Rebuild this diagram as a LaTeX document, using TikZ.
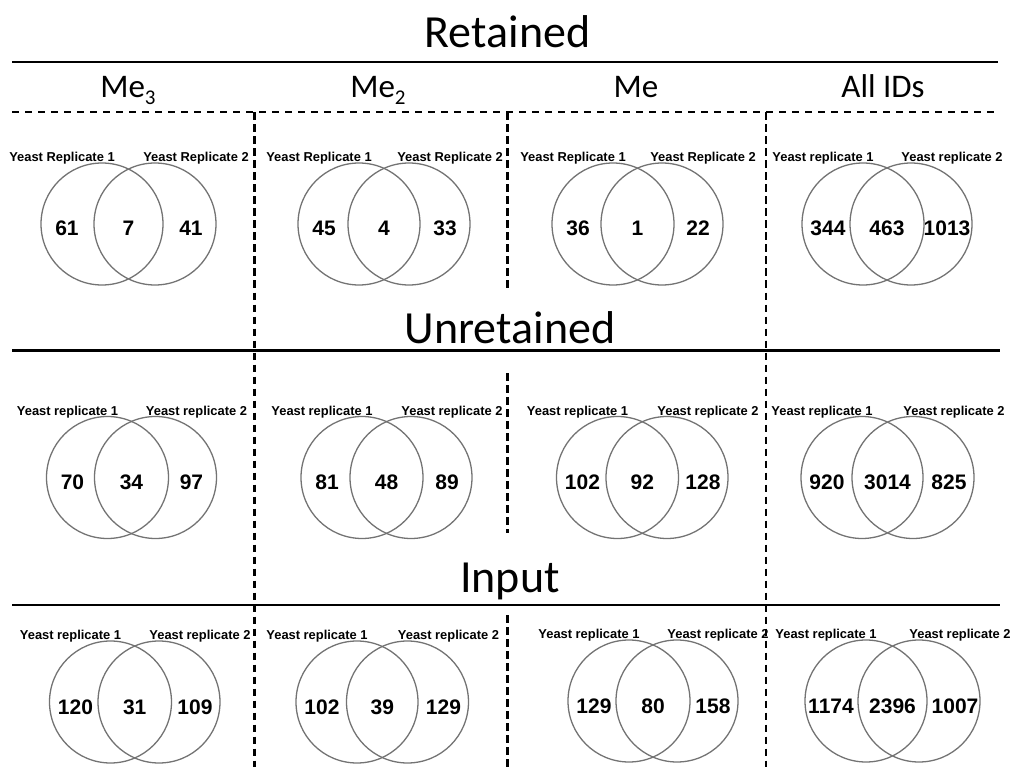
\documentclass[tikz,border=0pt]{standalone}
\usepackage{fontspec}
\setmainfont{Carlito}
\newfontfamily\arialf{Liberation Sans}
\tikzset{
  venncirc/.style={circle, draw=black!55, line width=1.3pt, minimum size=122pt, inner sep=0pt},
  vlabel/.style={font=\arialf\bfseries\fontsize{12.9}{14}\selectfont, anchor=base, inner sep=0pt},
  vnum/.style={font=\arialf\bfseries\fontsize{21}{24}\selectfont, anchor=base, inner sep=0pt},
  heading/.style={font=\fontsize{46}{50}\selectfont, anchor=base, inner sep=0pt},
  colhead/.style={font=\fontsize{33}{36}\selectfont, anchor=base, inner sep=0pt},
  solidrule/.style={line width=2.8pt},
  hdash/.style={line width=2pt, dash pattern=on 7pt off 6pt},
  vdash/.style={line width=2.3pt, dash pattern=on 7.5pt off 4.5pt}
}
\newcommand\mysub[1]{\raisebox{-7pt}{\fontsize{21}{22}\selectfont #1}}
% #1 name, #2 xL, #3 xR, #4 yc, #5 word, #6 #7 #8 numbers
\newcommand\myvenn[8]{%
  \node[venncirc] (#1a) at (#2,#4) {};
  \node[venncirc] (#1b) at (#3,#4) {};
  \node[vlabel] (#1la) at ({#2-40},{#4-62.5}) {Yeast #5 1};
  \node[vlabel] (#1lb) at ({#3+41},{#4-62.5}) {Yeast #5 2};
  \node[vnum] (#1n1) at ({#2-35},{#4+12}) {#6};
  \node[vnum] (#1n2) at ({(#2+#3)/2},{#4+12}) {#7};
  \node[vnum] (#1n3) at ({#3+36},{#4+12}) {#8};
}
\begin{document}
\begin{tikzpicture}[x=1pt,y=-1pt]
\useasboundingbox (0,0) rectangle (1017,767);
% headings
\node[heading] (hret) at (507.5,47.7) {Retained};
\node[heading] (hunr) at (510,343) {Unretained};
\node[heading] (hinp) at (510,592) {Input};
\node[colhead] (cme3) at (128,98) {Me\mysub{3}};
\node[colhead] (cme2) at (378,98) {Me\mysub{2}};
\node[colhead] (cme1) at (636,98) {Me};
\node[colhead] (call) at (883,98) {All IDs};
% rules
\coordinate (r1l) at (12,62);   \coordinate (r1r) at (998,62);
\coordinate (dl) at (12,112.5); \coordinate (dr) at (998,112.5);
\coordinate (r2l) at (12,350.5); \coordinate (r2r) at (1000,350.5);
\coordinate (r3l) at (12,605);  \coordinate (r3r) at (1000,605);
\draw[solidrule] (r1l) -- (r1r);
\draw[hdash] (dl) -- (dr);
\draw[solidrule] (r2l) -- (r2r);
\draw[solidrule] (r3l) -- (r3r);
% vertical dashed separators
\coordinate (v1t) at (254.5,112.5); \coordinate (v1b) at (254.5,767);
\coordinate (v3t) at (766,112.5);   \coordinate (v3b) at (766,767);
\coordinate (v2at) at (507.5,112.5); \coordinate (v2ab) at (507.5,292);
\coordinate (v2bt) at (507.5,373);   \coordinate (v2bb) at (507.5,533);
\coordinate (v2ct) at (507.5,615);   \coordinate (v2cb) at (507.5,767);
\draw[vdash] (v1t) -- (v1b);
\draw[vdash] (v3t) -- (v3b);
\draw[vdash] (v2at) -- (v2ab);
\draw[vdash] (v2bt) -- (v2bb);
\draw[vdash] (v2ct) -- (v2cb);
% Retained
\myvenn{ra}{102}{155}{224}{Replicate}{61}{7}{41}
\myvenn{rb}{359}{409}{224}{Replicate}{45}{4}{33}
\myvenn{rc}{613}{662}{224}{Replicate}{36}{1}{22}
\myvenn{rd}{863}{911}{224}{replicate}{344}{463}{1013}
% Unretained
\myvenn{ua}{107.5}{155.5}{477.5}{replicate}{70}{34}{97}
\myvenn{ub}{362}{411}{477.5}{replicate}{81}{48}{89}
\myvenn{uc}{617.5}{667}{477.5}{replicate}{102}{92}{128}
\myvenn{ud}{862}{913}{477.5}{replicate}{920}{3014}{825}
% Input
\myvenn{ia}{110.5}{159}{702}{replicate}{120}{31}{109}
\myvenn{ib}{357}{407.5}{702}{replicate}{102}{39}{129}
\myvenn{ic}{629}{677}{701}{replicate}{129}{80}{158}
\myvenn{id}{866}{919}{701}{replicate}{1174}{2396}{1007}
\end{tikzpicture}
\end{document}
